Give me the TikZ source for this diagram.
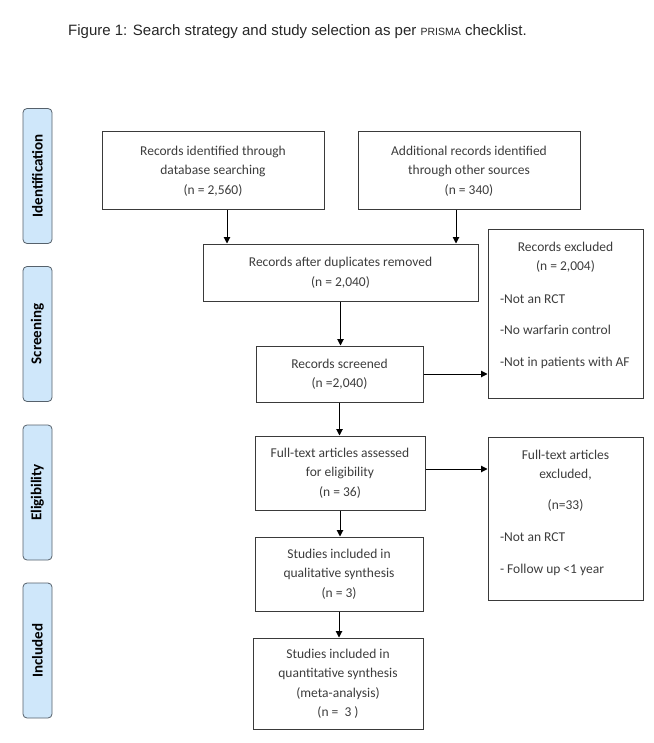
\documentclass[tikz,border=0pt]{standalone}
\usepackage{fontspec}
\setmainfont{Carlito}
\newfontfamily\titlefont{Liberation Sans}
\usetikzlibrary{arrows.meta}

\definecolor{boxgray}{HTML}{3A3A3A}
\definecolor{textgray}{HTML}{3C3C3C}
\definecolor{phaseblue}{HTML}{CFE7FA}
\definecolor{phaseline}{HTML}{56616B}

\newcommand{\boxfont}{\fontsize{13.5}{19.5}\selectfont}
\newcommand{\phasefont}{\fontsize{15}{15}\selectfont\bfseries}

\tikzset{
  flowbox/.style={draw=boxgray, line width=1pt, align=center, text=textgray, font=\boxfont, inner sep=0pt},
  exclbox/.style={draw=boxgray, line width=1pt, inner xsep=12pt, inner ysep=0pt, text=textgray, font=\boxfont},
  phase/.style={draw=phaseline, line width=0.8pt, fill=phaseblue, rounded corners=4pt, rotate=90,
    minimum width=135pt, minimum height=29pt, inner sep=0pt, font=\phasefont},
  arr/.style={-{Triangle[length=6.5pt,width=6.5pt]}, line width=1pt},
}

\begin{document}
\begin{tikzpicture}[x=1pt, y=-1pt]
  \useasboundingbox (0,0) rectangle (653,743);

  % Title line
  \node[anchor=west, inner sep=0pt, text=black!85, font=\titlefont\fontsize{15}{15}\selectfont] (title) at (68,32)
    {Figure 1: Search strategy and study selection as per {\fontsize{10.5}{10.5}\selectfont PRISMA} checklist.};

  % Phase labels down the left side
  \foreach \id/\lbl/\yc in {ident/Identification/176, screen/Screening/334, elig/Eligibility/492.5, incl/Included/650.5} {
      \node[phase] (phase-\id) at (37.5,\yc) {\lbl};
  }

  % Identification
  \node[flowbox, minimum width=222pt, minimum height=78pt] (db) at (213,171)
    {Records identified through\\database searching\\(n = 2,560)};
  \node[flowbox, minimum width=222pt, minimum height=78pt] (other) at (469,171)
    {Additional records identified\\through other sources\\(n = 340)};

  % Screening
  \node[flowbox, minimum width=275pt, minimum height=57pt] (dup) at (340.5,272.5)
    {Records after duplicates removed\\(n = 2,040)};
  \node[flowbox, minimum width=167pt, minimum height=56pt] (screened) at (339.5,374)
    {Records screened\\(n =2,040)};
  \node[exclbox] (excl) at (565.5,313.5)
    {\parbox[t][169pt][t]{131pt}{\vspace*{13pt}\centering Records excluded\\(n = 2,004)\par
     \vspace{13pt}\raggedright -Not an RCT\\[11.5pt]-No warfarin control\\[12.5pt]-Not in patients with AF}};

  % Eligibility
  \node[flowbox, minimum width=170pt, minimum height=74pt] (fulltext) at (340,473)
    {Full-text articles assessed\\for eligibility\\(n = 36)};
  \node[exclbox] (ftexcl) at (565.5,518.5)
    {\parbox[t][163pt][t]{131pt}{\vspace*{13pt}\centering Full-text articles\\excluded,\\[11.5pt](n=33)\par
     \vspace{12.5pt}\raggedright -Not an RCT\\[12.5pt]- Follow up <1 year}};

  % Included
  \node[flowbox, minimum width=168pt, minimum height=74pt] (qual) at (339,574)
    {Studies included in\\qualitative synthesis\\(n = 3)};
  \node[flowbox, minimum width=170pt, minimum height=91pt] (quant) at (338,683.5)
    {Studies included in\\quantitative synthesis\\(meta-analysis)\\(n = ~3 )};

  % Arrows between the boxes
  \draw[arr] ([xshift=14pt]db.south) -- ([xshift=14pt]db.south |- dup.north);
  \draw[arr] ([xshift=-13pt]other.south) -- ([xshift=-13pt]other.south |- dup.north);
  \draw[arr] (dup.south) -- (dup.south |- screened.north);
  \draw[arr] (screened.east) -- (screened.east -| excl.west);
  \draw[arr] (screened.south) -- (screened.south |- fulltext.north);
  \draw[arr] ([yshift=4pt]fulltext.east) -- ([yshift=4pt]fulltext.east -| ftexcl.west);
  \draw[arr] (fulltext.south) -- (fulltext.south |- qual.north);
  \draw[arr] (qual.south) -- (qual.south |- quant.north);
\end{tikzpicture}
\end{document}
